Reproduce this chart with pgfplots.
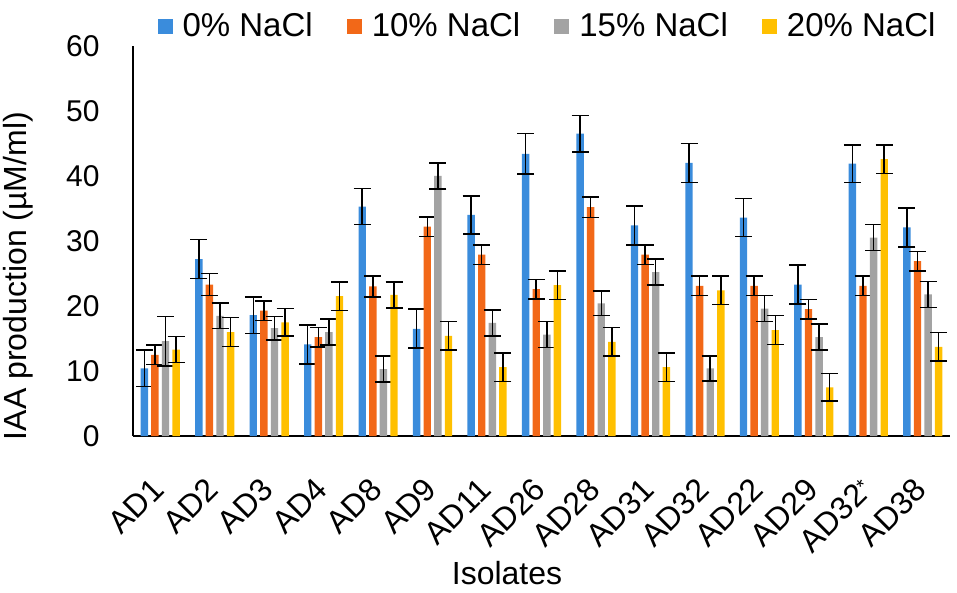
\documentclass[border=0pt]{standalone}
\usepackage{pgfplots}
\pgfplotsset{compat=1.18}
\usepackage{pgfplotstable}
\usepackage{fontspec}
\setmainfont{Liberation Sans}
\definecolor{cblue}{HTML}{3A8CDC}
\definecolor{corange}{HTML}{F26818}
\definecolor{cgray}{HTML}{A3A3A3}
\definecolor{cyellow}{HTML}{FFC000}

\pgfplotstableread{
x y e
0 10.4 2.8
1 27.2 3.0
2 18.6 2.8
3 14.1 3.0
4 35.3 2.8
5 16.5 3.0
6 34.0 2.9
7 43.4 3.1
8 46.5 2.8
9 32.4 3.0
10 42.0 3.0
11 33.6 2.9
12 23.3 3.0
13 41.9 2.9
14 32.1 3.0
}\tblue
\pgfplotstableread{
x y e
0 12.5 1.5
1 23.3 1.7
2 19.3 1.5
3 15.2 1.5
4 23.0 1.6
5 32.2 1.5
6 27.9 1.5
7 22.6 1.5
8 35.2 1.6
9 27.9 1.5
10 23.1 1.5
11 23.1 1.5
12 19.5 1.5
13 23.1 1.5
14 26.9 1.5
}\torange
\pgfplotstableread{
x y e
0 14.6 3.8
1 18.5 2.0
2 16.6 1.8
3 16.0 2.0
4 10.3 2.0
5 40.0 2.0
6 17.4 2.0
7 15.6 2.0
8 20.4 1.9
9 25.2 2.0
10 10.4 1.9
11 19.6 2.0
12 15.2 2.0
13 30.5 2.0
14 21.8 2.0
}\tgray
\pgfplotstableread{
x y e
0 13.3 2.0
1 16.0 2.2
2 17.5 2.1
3 21.5 2.2
4 21.7 2.0
5 15.4 2.2
6 10.6 2.2
7 23.2 2.2
8 14.5 2.2
9 10.6 2.2
10 22.4 2.2
11 16.3 2.2
12 7.5 2.1
13 42.6 2.2
14 13.7 2.2
}\tyellow

\begin{document}
\begin{tikzpicture}
\useasboundingbox (-66.5pt,-78.5pt) rectangle (412pt,218pt);
\begin{axis}[
  at={(0,0)}, anchor=south west,
  scale only axis, width=408.5pt, height=195pt,
  xmin=-0.5, xmax=14.5, ymin=0, ymax=60,
  ytick={0,10,...,60},
  xtick={0,...,14},
  xticklabels={AD1,AD2,AD3,AD4,AD8,AD9,AD11,AD26,AD28,AD31,AD32,AD22,AD29,{AD32{\fontsize{10}{10}\selectfont\raisebox{0.55ex}{*}}},AD38},
  ybar=1.6pt, bar width=3.7pt,
  axis x line*=bottom, axis y line*=left,
  axis line style={line width=0.75pt, -},
  tick style={draw=none},
  /pgf/number format/assume math mode=true,
  ticklabel style={font=\fontsize{15}{18}\selectfont},
  yticklabel style={inner sep=0pt, xshift=-16.5pt},
  xticklabel style={font=\fontsize{16}{19}\selectfont, yshift=-15.5pt, xshift=-5pt, rotate=45, anchor=north east, inner sep=0pt},
  xlabel={Isolates},
  ylabel={IAA production (µM/ml)},
  label style={font=\fontsize{16}{19}\selectfont},
  xlabel style={at={(axis description cs:0.4578,-0.351)}, anchor=center},
  ylabel style={at={(axis description cs:-0.1408,0.41)}, anchor=center},
  legend columns=4,
  legend style={at={(0.5086,1.051)}, anchor=center, draw=none, fill=none,
    font=\fontsize{16.5}{19}\selectfont,
    /tikz/every odd column/.append style={column sep=3pt},
    /tikz/every even column/.append style={column sep=15pt}},
  legend image code/.code={\fill[#1] (0pt,-3.75pt) rectangle (7.5pt,3.75pt);},
  every axis plot/.append style={draw=none,
    error bars/y dir=both, error bars/y explicit,
    error bars/error bar style={black, line width=0.75pt},
    error bars/error mark options={black, line width=0.75pt, mark size=4.25pt, rotate=90}},
]
\addplot[fill=cblue] table[x=x,y=y,y error=e] {\tblue};
\addplot[fill=corange] table[x=x,y=y,y error=e] {\torange};
\addplot[fill=cgray] table[x=x,y=y,y error=e] {\tgray};
\addplot[fill=cyellow] table[x=x,y=y,y error=e] {\tyellow};
\legend{0\% NaCl,10\% NaCl,15\% NaCl,20\% NaCl}
\end{axis}
\end{tikzpicture}
\end{document}
